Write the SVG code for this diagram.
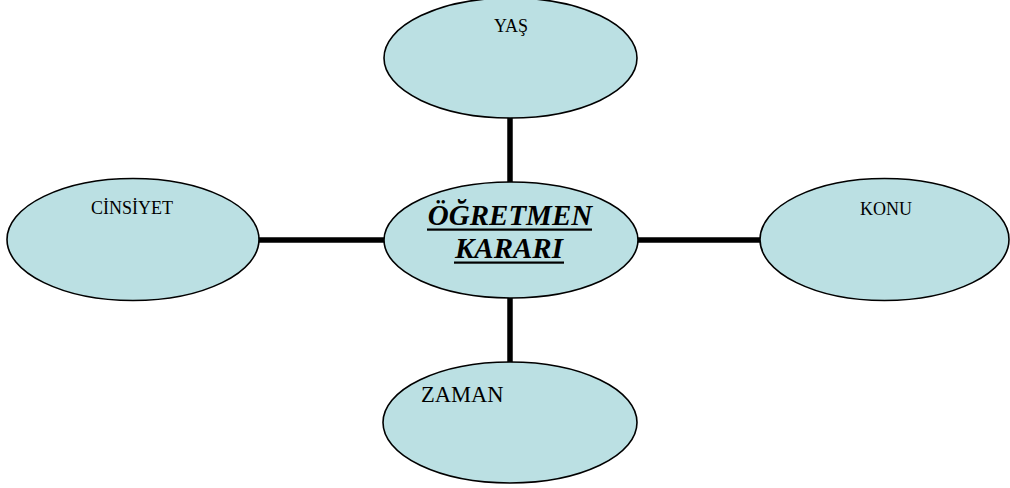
<svg xmlns="http://www.w3.org/2000/svg" width="1010" height="488" viewBox="0 0 1010 488">
  <style>
    .node ellipse { fill: #bbe0e3; stroke: #000; stroke-width: 1.6; }
    .label { font-family: "Liberation Serif", "Times New Roman", serif; font-size: 18px; fill: #000; }
    .main { font-family: "Liberation Serif", "Times New Roman", serif; font-size: 29px; font-weight: bold; font-style: italic; fill: #000; text-anchor: middle; }
    .links line { stroke: #000; stroke-width: 5.5; }
  </style>
  <rect width="1010" height="488" fill="#fff"/>

  <!-- connectors between the central node and its four satellites -->
  <g id="connectors" class="links">
    <line x1="510" y1="116" x2="510" y2="183"/>
    <line x1="510" y1="297" x2="510" y2="364"/>
    <line x1="257" y1="240" x2="386" y2="240"/>
    <line x1="636" y1="240" x2="762" y2="240"/>
  </g>

  <g id="node-yas" class="node">
    <ellipse cx="510.5" cy="58" rx="126.5" ry="60"/>
    <text class="label" x="511" y="32" text-anchor="middle">YAŞ</text>
  </g>

  <g id="node-cinsiyet" class="node">
    <ellipse cx="133" cy="239.5" rx="126" ry="61"/>
    <text class="label" x="132" y="214" text-anchor="middle">CİNSİYET</text>
  </g>

  <g id="node-konu" class="node">
    <ellipse cx="884.5" cy="239.5" rx="124.5" ry="61"/>
    <text class="label" x="886" y="215" text-anchor="middle">KONU</text>
  </g>

  <g id="node-zaman" class="node">
    <ellipse cx="510" cy="422.5" rx="127" ry="60.5"/>
    <text class="label" x="421" y="402" style="font-size:22.5px">ZAMAN</text>
  </g>

  <g id="node-ogretmen-karari" class="node">
    <ellipse cx="511" cy="240" rx="127" ry="58"/>
    <text class="main" x="510" y="225">ÖĞRETMEN</text>
    <rect x="427" y="228.5" width="165" height="2.2" fill="#000"/>
    <text class="main" x="509" y="258">KARARI</text>
    <rect x="454" y="261.5" width="110" height="2.2" fill="#000"/>
  </g>
</svg>
